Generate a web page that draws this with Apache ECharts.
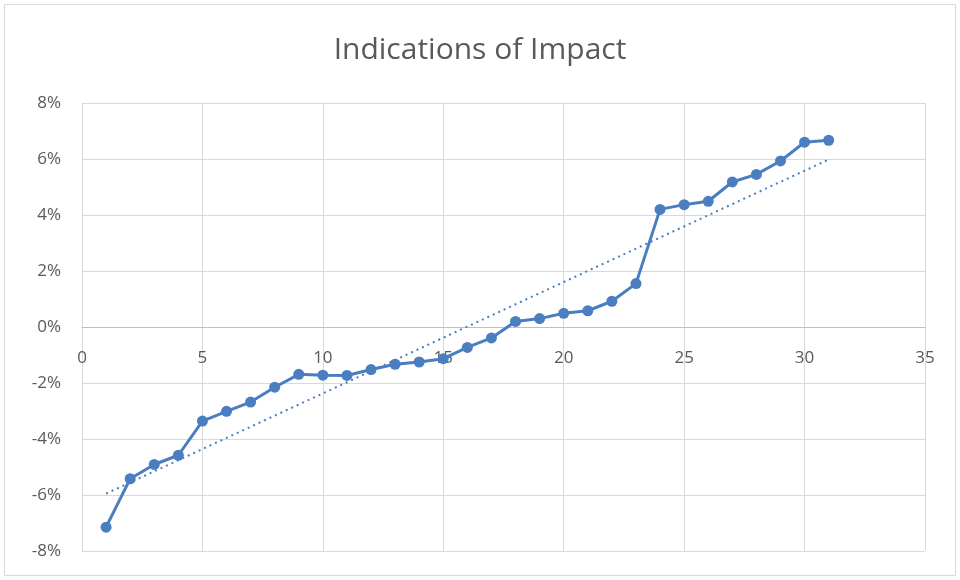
<!DOCTYPE html>
<html>
<head>
<meta charset="utf-8">
<script src="https://cdn.jsdelivr.net/npm/echarts@6/dist/echarts.min.js"></script>
<style>html,body{margin:0;padding:0;background:#fff}#c{width:960px;height:580px}</style>
</head>
<body>
<div id="c"></div>
<script>
const xValues = [1,2,3,4,5,6,7,8,9,10,11,12,13,14,15,16,17,18,19,20,21,22,23,24,25,26,27,28,29,30,31];
const impact = [-7.15,-5.42,-4.91,-4.58,-3.36,-3.01,-2.68,-2.15,-1.69,-1.72,-1.73,-1.52,-1.33,-1.25,-1.13,-0.73,-0.39,0.20,0.30,0.49,0.58,0.92,1.55,4.20,4.37,4.49,5.18,5.45,5.93,6.60,6.67];
const trendX = [1, 31];
const trendY = [-5.95, 5.98];
const title = 'Indications of Impact';

const chart = echarts.init(document.getElementById('c'));
const txt = '#595959';
const gridTop = 103, gridBottom = 29, yMin = -8, yMax = 8;
const plotH = 580 - gridTop - gridBottom;
const zeroOffset = -plotH * (0 - yMin) / (yMax - yMin);
chart.setOption({
  animation: false,
  backgroundColor: '#fff',
  title: {
    text: title, left: 'center', top: 30,
    textStyle: {fontFamily: 'Open Sans', fontWeight: 'normal', fontSize: 30, color: txt}
  },
  graphic: [{type: 'rect', shape: {x: 4.5, y: 4.5, width: 951, height: 571}, style: {fill: 'none', stroke: '#D9D9D9', lineWidth: 1}, silent: true}],
  grid: {left: 82, right: 35, top: gridTop, bottom: gridBottom, containLabel: false},
  xAxis: {
    type: 'value', min: 0, max: 35, interval: 5,
    offset: zeroOffset,
    axisLine: {onZero: false, lineStyle: {color: '#BFBFBF', width: 1}},
    axisTick: {show: false},
    axisLabel: {color: txt, fontSize: 17, fontFamily: 'Open Sans', margin: 23},
    splitLine: {show: true, lineStyle: {color: '#D9D9D9', width: 1}}
  },
  yAxis: {
    type: 'value', min: yMin, max: yMax, interval: 2,
    axisLine: {show: true, lineStyle: {color: '#D9D9D9', width: 1}},
    axisTick: {show: false},
    axisLabel: {color: txt, fontSize: 17, fontFamily: 'Open Sans', margin: 21, formatter: '{value}%'},
    splitLine: {show: true, lineStyle: {color: '#D9D9D9', width: 1}}
  },
  series: [
    {
      type: 'line', data: xValues.map((x, i) => [x, impact[i]]),
      symbol: 'circle', symbolSize: 11,
      itemStyle: {color: '#4A7EC1'},
      lineStyle: {color: '#4A7EC1', width: 3},
      z: 3
    },
    {
      type: 'line', data: trendX.map((x, i) => [x, trendY[i]]),
      symbol: 'none',
      lineStyle: {color: '#4A7EC1', width: 2, type: [2, 4]},
      z: 2
    }
  ]
});
</script>
</body>
</html>
